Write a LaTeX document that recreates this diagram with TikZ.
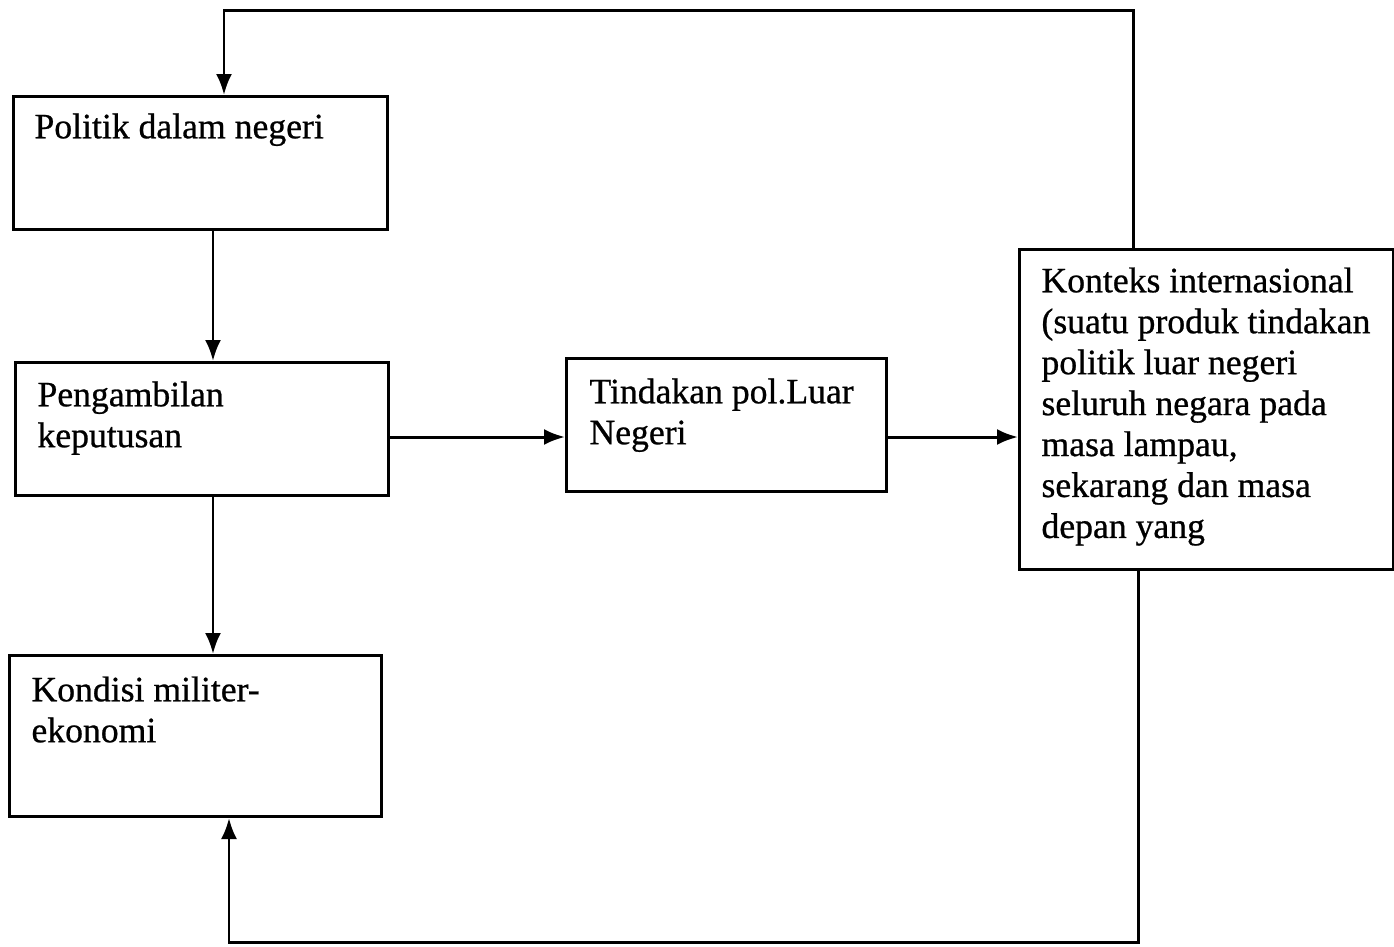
\documentclass[tikz,border=0pt]{standalone}
\usepackage{fontspec}
\setmainfont{Liberation Serif}
\newfontfamily\tebal[FakeBold=0.7]{Liberation Serif}
\usetikzlibrary{arrows.meta}
\tikzset{
  kotak/.style={draw,line width=1.7pt,inner sep=0pt,anchor=north west},
  teks/.style={inner sep=0pt,anchor=north west,align=left,
    font=\tebal\fontsize{20.3}{23.3}\selectfont}
}
\begin{document}
\begin{tikzpicture}[x=0.2mm,y=-0.2mm,>={Latex[length=4.2mm,width=3.2mm]},line width=1.7pt]
\useasboundingbox (0,0) rectangle (1394,946);
\node[kotak,minimum width=74.8mm,minimum height=26.6mm] (politik) at (12,95) {};
\node[kotak,minimum width=74.6mm,minimum height=26.6mm] (putusan) at (14,361) {};
\node[kotak,minimum width=74.4mm,minimum height=32.2mm] (kondisi) at (8,654) {};
\node[kotak,minimum width=64mm,minimum height=26.6mm] (tindakan) at (565,357) {};
\node[kotak,minimum width=74.8mm,minimum height=64mm] (konteks) at (1018,248) {};
\node[teks] (politikT) at (33,112) {Politik dalam negeri};
\node[teks] (putusanT) at (36,380) {Pengambilan\\keputusan};
\node[teks] (kondisiT) at (30,675) {Kondisi militer-\\ekonomi};
\node[teks] (tindakanT) at (588,377) {Tindakan pol.Luar\\Negeri};
\node[teks] (konteksT) at (1040,266) {Konteks internasional\\(suatu produk tindakan\\politik luar negeri\\seluruh negara pada\\masa lampau,\\sekarang dan masa\\depan yang};
\coordinate (loopT) at (1133,10);
\coordinate (loopTL) at (224,10);
\coordinate (loopB) at (1138,942);
\coordinate (loopBL) at (229,942);
\coordinate (kiri) at (213,0);
\coordinate (tengah) at (0,437);
\draw[->] (konteks.north -| loopT) -- (loopT) -- (loopTL) -- (politik.north -| loopTL);
\draw[->] (politik.south -| kiri) -- (putusan.north -| kiri);
\draw[->] (putusan.south -| kiri) -- (kondisi.north -| kiri);
\draw[->] (putusan.east |- tengah) -- (tindakan.west |- tengah);
\draw[->] (tindakan.east |- tengah) -- (konteks.west |- tengah);
\draw[->] (konteks.south -| loopB) -- (loopB) -- (loopBL) -- (kondisi.south -| loopBL);
\end{tikzpicture}
\end{document}
